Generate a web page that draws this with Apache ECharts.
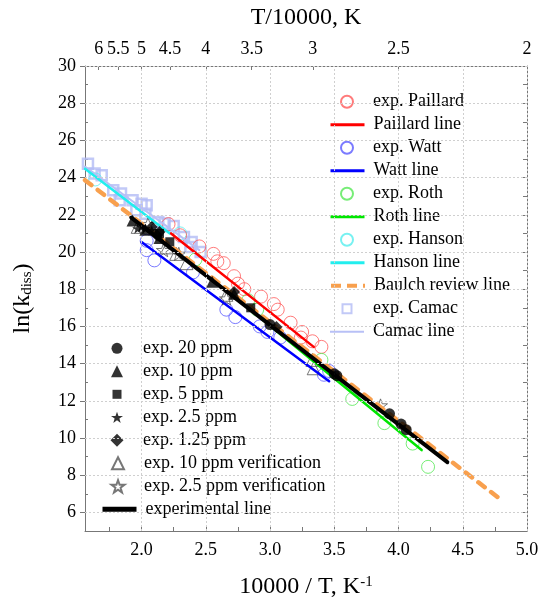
<!DOCTYPE html>
<html>
<head>
<meta charset="utf-8">
<script src="https://cdn.jsdelivr.net/npm/echarts@6/dist/echarts.min.js"></script>
<style>
html,body{margin:0;padding:0;background:#fff;}
#main{width:543px;height:604px;}
</style>
</head>
<body>
<div id="main"></div>
<script>
// axes
var xMin = 1.56, xMax = 5.0, yMin = 5, yMax = 30;
var xLabels = [2.0, 2.5, 3.0, 3.5, 4.0, 4.5, 5.0];
var xTicks = [1.75, 2.0, 2.25, 2.5, 2.75, 3.0, 3.25, 3.5, 3.75, 4.0, 4.25, 4.5, 4.75, 5.0];
var yLabels = [6, 8, 10, 12, 14, 16, 18, 20, 22, 24, 26, 28, 30];
var yMinorTicks = [5, 7, 9, 11, 13, 15, 17, 19, 21, 23, 25, 27, 29];
var topLabels = [6, 5.5, 5, 4.5, 4, 3.5, 3, 2.5, 2]; // T/10000

// literature data  [10000/T, ln k]
var expPaillard = [[2.21,21.5],[2.30,20.9],[2.45,20.3],[2.56,19.9],[2.59,19.5],[2.64,19.4],[2.72,18.7],[2.75,18.3],[2.80,18.0],[2.93,17.6],[3.03,17.2],[3.06,16.9],[3.16,16.2],[3.25,15.7],[3.24,15.4],[3.33,15.2],[3.40,14.9]];
var expWatt = [[2.04,20.6],[2.04,20.1],[2.10,19.55],[2.40,18.9],[2.66,16.9],[2.73,16.5],[2.92,16.0],[2.98,15.7],[3.08,15.4],[3.42,13.4],[3.46,13.6]];
var expRoth = [[2.42,19.6],[2.83,17.4],[2.90,16.9],[3.40,14.2],[3.64,12.1],[3.89,10.8],[4.11,9.7],[4.23,8.45]];
var expHanson = [[1.64,23.9],[2.30,21.0]];
var expCamac = [[1.583,24.75],[1.635,24.22],[1.69,24.12],[1.78,23.32],[1.84,23.14],[1.83,22.78],[1.93,22.78],[2.0,22.6],[2.04,22.51],[1.96,22.24],[2.03,22.06],[2.13,21.61],[2.18,21.53],[2.25,21.4],[2.33,20.81],[2.39,20.54],[2.38,20.27],[2.46,20.0]];

var paillardLine = [[2.23,21.0],[3.34,14.9]];
var wattLine = [[2.0,20.54],[3.46,13.05]];
var rothLine = [[2.9,16.6],[4.18,9.35]];
var hansonLine = [[1.56,24.48],[2.22,21.0]];
var baulchLine = [[1.56,23.86],[4.77,6.83]];
var camacLine = [[1.56,24.6],[2.45,20.1]];

// this work
var exp20 = [[3.0,16.1],[3.50,13.45],[3.52,13.35],[3.93,11.3],[4.02,10.75],[4.06,10.45]];
var exp10 = [[1.93,21.7],[2.03,21.2],[2.14,20.75],[2.55,18.4],[2.72,17.75]];
var exp5 = [[2.14,21.0],[2.22,20.55],[2.85,17.0]];
var exp25 = [[1.97,21.26],[2.0,21.35],[2.03,21.26],[2.08,21.17]];
var exp125 = [[2.08,21.35],[2.12,20.9],[2.14,21.08],[2.72,17.85],[3.05,15.97]];
var ver10 = [[1.97,21.35],[2.2,20.25],[2.27,19.9],[2.35,19.4],[2.66,17.7],[3.33,14.2],[3.34,13.75]];
var ver25 = [[2.05,21.5],[2.17,20.1],[2.29,19.9],[2.66,17.5],[3.86,11.75]];
var expLine = [[1.92,21.85],[4.38,8.7]];

var legendRight = ['exp. Paillard', 'Paillard line', 'exp. Watt', 'Watt line', 'exp. Roth', 'Roth line',
    'exp. Hanson', 'Hanson line', 'Baulch review line', 'exp. Camac', 'Camac line'];
var legendLeft = ['exp. 20 ppm', 'exp. 10 ppm', 'exp. 5 ppm', 'exp. 2.5 ppm', 'exp. 1.25 ppm',
    'exp. 10 ppm verification', 'exp. 2.5 ppm verification', 'experimental line'];

var FONT = 'Liberation Serif';
var AXIS_COLOR = '#777';
var STAR = 'path://M50,2L61.8,35.6L97.6,35.6L68.9,57.1L79.4,91.5L50,71L20.6,91.5L31.1,57.1L2.4,35.6L38.2,35.6Z';
var DIAMOND = 'path://M50,0L100,50L50,100L0,50Z';

var legendInfo = {}; // name -> icon info for the legend
function openScatter(name, data, color, symbol, size, bw, iconSize) {
    legendInfo[name] = { icon: iconSize };
    return {
        name: name, type: 'scatter', data: data,
        symbol: symbol, symbolSize: size, symbolKeepAspect: true,
        itemStyle: { color: 'rgba(0,0,0,0)', borderColor: color, borderWidth: bw }
    };
}
function filledScatter(name, data, symbol, size, iconSize) {
    legendInfo[name] = { icon: iconSize, filled: true };
    return {
        name: name, type: 'scatter', data: data, z: 5,
        symbol: symbol, symbolSize: size, symbolKeepAspect: true,
        itemStyle: { color: '#000', borderWidth: 0 }
    };
}
function fitLine(name, data, color, width, type, legendWidth, legendType) {
    legendInfo[name] = { line: legendWidth || width, type: legendType || 'solid' };
    return {
        name: name, type: 'line', data: data, showSymbol: false, symbol: 'none',
        lineStyle: { color: color, width: width, type: type || 'solid', cap: 'round' },
        itemStyle: { color: color, opacity: 0 }
    };
}

var series = [
    {
        name: 'grid', type: 'line', data: [], silent: true, z: 0,
        markLine: {
            silent: true, symbol: ['none', 'none'], label: { show: false },
            lineStyle: { color: '#cfcfcf', width: 1, type: [2, 2] },
            emphasis: { disabled: true },
            data: xLabels.map(function (v) { return { xAxis: v }; })
                .concat(yLabels.map(function (v) { return { yAxis: v }; }))
        }
    },
    openScatter('exp. Camac', expCamac, '#b3bcf5', 'rect', 10, 2.5, 9),
    fitLine('Camac line', camacLine, '#b8c0f6', 2),
    openScatter('exp. Hanson', expHanson, '#55eeee', 'circle', 13, 1, 12),
    fitLine('Hanson line', hansonLine, '#22eeee', 2.5, null, 3),
    openScatter('exp. Paillard', expPaillard, '#ff5a5a', 'circle', 13, 1, 12),
    openScatter('exp. Watt', expWatt, '#5a5aff', 'circle', 13, 1, 12),
    openScatter('exp. Roth', expRoth, '#55e855', 'circle', 13, 1, 12),
    fitLine('Paillard line', paillardLine, '#ff0000', 2.5, null, 3),
    fitLine('Watt line', wattLine, '#0000ff', 2.5, null, 3),
    fitLine('Roth line', rothLine, '#00e600', 2.5, null, 3),
    fitLine('Baulch review line', baulchLine, '#f8a04e', 4.5, [8, 8], 4, [10, 6]),
    fitLine('experimental line', expLine, '#000000', 4, null, 5),
    filledScatter('exp. 20 ppm', exp20, 'circle', 11, 11),
    filledScatter('exp. 10 ppm', exp10, 'triangle', 12, 12),
    filledScatter('exp. 5 ppm', exp5, 'rect', 9, 9),
    filledScatter('exp. 2.5 ppm', exp25, STAR, 11, 12),
    filledScatter('exp. 1.25 ppm', exp125, DIAMOND, 12, 13),
    openScatter('exp. 10 ppm verification', ver10, '#555', 'triangle', 13, 1, 12),
    openScatter('exp. 2.5 ppm verification', ver25, '#555', STAR, 14, 1, 13)
];

// one legend component per row, so every icon keeps its own size
function buildLegend(names, iconLeft, firstRowY) {
    return names.map(function (n, i) {
        var info = legendInfo[n];
        var rowTop = firstRowY + 23 * i - 9;
        var textStyle = { fontFamily: FONT, fontSize: 18, color: '#000', lineHeight: 18 };
        if (info.line) {
            textStyle.padding = [0, 0, 0, 4];
            return {
                orient: 'vertical', left: iconLeft, top: rowTop, padding: 0,
                itemWidth: 34, itemHeight: 10, textStyle: textStyle,
                data: [{ name: n, itemStyle: { opacity: 0, color: 'rgba(0,0,0,0)', borderWidth: 0 },
                    lineStyle: { width: info.line, type: info.type, cap: 'butt' } }]
            };
        }
        var s = info.icon;
        var left = iconLeft + 17 - s / 2;
        textStyle.padding = [0, 0, 0, (iconLeft + 43) - (left + s + 5)];
        var item = { name: n };
        if (info.filled) {
            item.itemStyle = { color: '#000', borderWidth: 0 };
        }
        return {
            orient: 'vertical', left: left, top: rowTop, padding: 0,
            itemWidth: s, itemHeight: s, textStyle: textStyle,
            data: [item]
        };
    });
}

var chart = echarts.init(document.getElementById('main'));

var option = {
    animation: false,
    backgroundColor: '#fff',
    textStyle: { fontFamily: FONT },
    grid: { left: 85, right: 16, top: 66, bottom: 73, containLabel: false, outerBoundsMode: 'none' },
    xAxis: [{
        type: 'value', position: 'bottom', min: xMin, max: xMax,
        name: '10000 / T, K{sup|-1}', nameLocation: 'middle', nameGap: 44,
        nameTextStyle: { fontFamily: FONT, fontSize: 24, color: '#000',
            rich: { sup: { fontFamily: FONT, fontSize: 15, lineHeight: 16, verticalAlign: 'top', color: '#000' } } },
        axisLine: { show: true, onZero: false, lineStyle: { color: AXIS_COLOR } },
        axisTick: { show: true, inside: true, length: 4, customValues: xTicks, lineStyle: { color: AXIS_COLOR } },
        axisLabel: { fontFamily: FONT, fontSize: 18, color: '#000', margin: 10, customValues: xLabels,
            formatter: function (v) { return v.toFixed(1); } },
        splitLine: { show: false }
    }, {
        type: 'value', position: 'top', min: xMin, max: xMax,
        name: 'T/10000, K', nameLocation: 'middle', nameGap: 36,
        nameTextStyle: { fontFamily: FONT, fontSize: 24, color: '#000' },
        axisLine: { show: true, onZero: false, lineStyle: { color: AXIS_COLOR } },
        axisTick: { show: true, inside: true, length: 4, customValues: topLabels.map(function (t) { return 10 / t; }), lineStyle: { color: AXIS_COLOR } },
        axisLabel: { fontFamily: FONT, fontSize: 18, color: '#000', margin: 8,
            customValues: topLabels.map(function (t) { return 10 / t; }),
            formatter: function (v) { return String(+(10 / v).toFixed(1)); } },
        splitLine: { show: false }
    }],
    yAxis: [{
        type: 'value', position: 'left', min: yMin, max: yMax,
        name: 'ln(k{sub|diss})', nameLocation: 'middle', nameGap: 50, nameRotate: 90,
        nameTextStyle: { fontFamily: FONT, fontSize: 24, color: '#000',
            rich: { sub: { fontFamily: FONT, fontSize: 15, lineHeight: 14, verticalAlign: 'bottom', color: '#000' } } },
        axisLine: { show: true, onZero: false, lineStyle: { color: AXIS_COLOR } },
        axisTick: { show: true, inside: false, length: 5, customValues: yLabels, lineStyle: { color: AXIS_COLOR } },
        axisLabel: { fontFamily: FONT, fontSize: 18, color: '#000', margin: 9, customValues: yLabels },
        splitLine: { show: false }
    }, {
        type: 'value', position: 'right', min: yMin, max: yMax,
        axisLine: { show: true, onZero: false, lineStyle: { color: AXIS_COLOR } },
        axisTick: { show: true, inside: true, length: 4, customValues: yLabels.concat(yMinorTicks), lineStyle: { color: AXIS_COLOR } },
        axisLabel: { show: false },
        splitLine: { show: false }
    }, {
        type: 'value', position: 'left', min: yMin, max: yMax,
        axisLine: { show: false },
        axisTick: { show: true, inside: true, length: 3, customValues: yMinorTicks, lineStyle: { color: AXIS_COLOR } },
        axisLabel: { show: false },
        splitLine: { show: false }
    }],
    legend: buildLegend(legendRight, 329, 101.7).concat(buildLegend(legendLeft, 100, 348.3)),
    series: series
};
chart.setOption(option);
</script>
</body>
</html>
